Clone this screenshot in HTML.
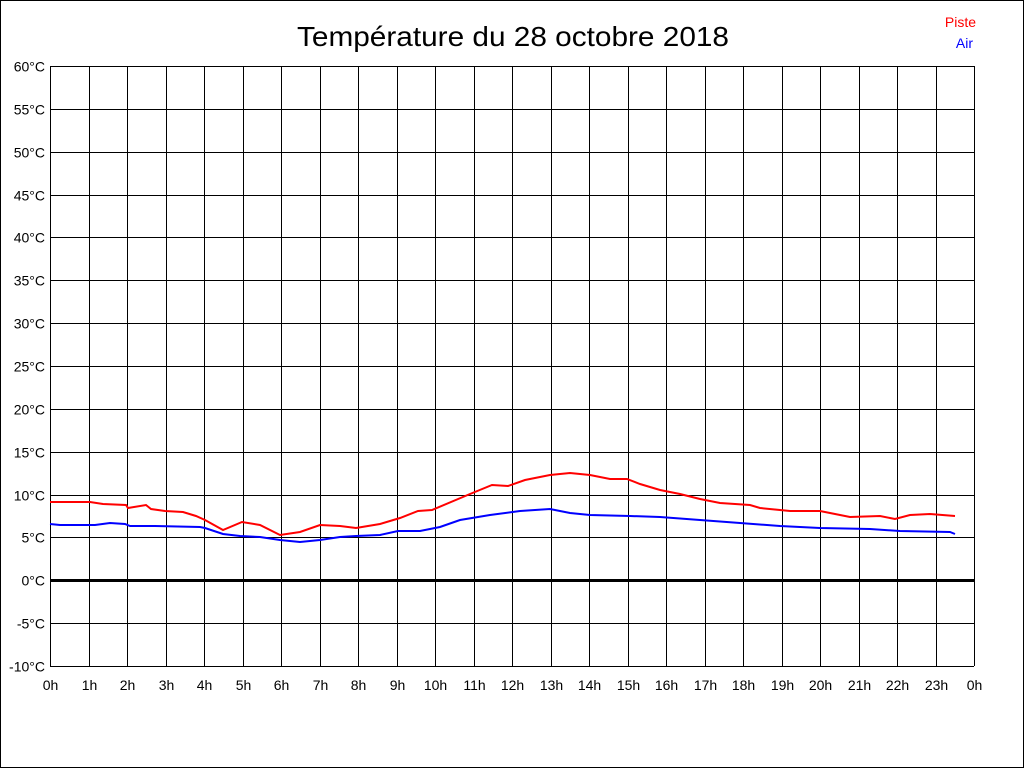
<!DOCTYPE html>
<html><head><meta charset="utf-8"><style>
html,body{margin:0;padding:0;background:#fff}
svg{display:block}
text{font-family:"Liberation Sans",Arial,sans-serif}
</style></head><body>
<svg width="1024" height="768" viewBox="0 0 1024 768" xmlns="http://www.w3.org/2000/svg">
<rect x="0.5" y="0.5" width="1023" height="767" fill="#fff" stroke="#000"/>
<text x="513" y="46" font-size="28" text-anchor="middle" textLength="432" lengthAdjust="spacingAndGlyphs">Température du 28 octobre 2018</text>
<text x="976" y="27" font-size="14" fill="#f00" text-anchor="end">Piste</text>
<text x="973" y="48" font-size="14" fill="#00f" text-anchor="end">Air</text>
<g id="grid" stroke="#000" stroke-width="1" shape-rendering="crispEdges"></g>
<g id="lbl" font-size="14"></g>
<polyline fill="none" stroke="#f00" stroke-width="2" points="50,502 59,502 90,502 103,504 126,505 128,508 146,505 151,509 165,511 183,512 196,516 205,520 223,530 242,522 260,525 280,535 300,532 320,525 340,526 356,528 380,524 400,518 418,511 432,510 470,494 492,485 508,486 525,480 550,475 570,473 590,475 610,479 627,479 640,484 660,490 680,494 700,499 720,503 750,505 760,508 790,511 820,511 830,513 850,517 880,516 895,519 910,515 930,514 955,516"/>
<polyline fill="none" stroke="#00f" stroke-width="2" points="50,524 60,525 95,525 110,523 125,524 130,526 155,526 200,527 205,528 223,534 240,536 260,537 280,540 300,542 320,540 340,537 356,536 380,535 398,531 420,531 440,527 460,520 490,515 520,511 550,509 570,513 590,515 630,516 660,517 700,520 740,523 780,526 820,528 870,529 900,531 950,532 955,534"/>
</svg>
<script>
var ns="http://www.w3.org/2000/svg",g=document.getElementById("grid"),l=document.getElementById("lbl");
function ln(x1,y1,x2,y2,w){var e=document.createElementNS(ns,"line");e.setAttribute("x1",x1);e.setAttribute("y1",y1);e.setAttribute("x2",x2);e.setAttribute("y2",y2);if(w)e.setAttribute("stroke-width",w);g.appendChild(e);}
function tx(x,y,s,a){var e=document.createElementNS(ns,"text");e.setAttribute("x",x);e.setAttribute("y",y);e.setAttribute("text-anchor",a);e.textContent=s;l.appendChild(e);}
for(var i=0;i<=14;i++){var t=60-5*i,y=Math.round(66+i*600/14)+0.5;ln(50,y,974,y,t==0?3:1);tx(45,y+5,t+"°C","end");}
for(var h=0;h<=24;h++){var x=Math.round(50+h*38.5)+0.5;ln(x,66,x,666);tx(x,690,(h%24)+"h","middle");}
</script>
</body></html>
